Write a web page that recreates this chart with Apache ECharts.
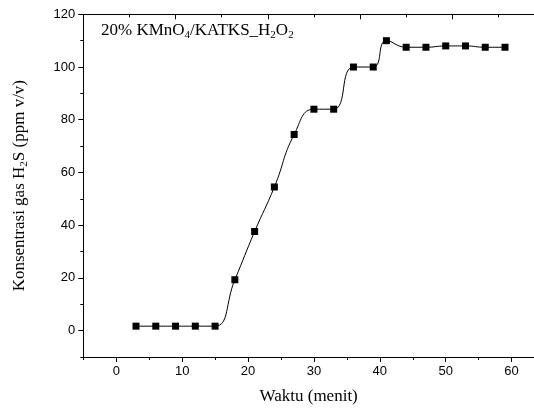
<!DOCTYPE html>
<html>
<head>
<meta charset="utf-8">
<script src="https://cdn.jsdelivr.net/npm/echarts@6/dist/echarts.min.js"></script>
<style>html,body{margin:0;padding:0;background:#fff}#c{width:534px;height:410px}</style>
</head>
<body>
<div id="c"></div>
<script>
// Data
const time = [3, 6, 9, 12, 15, 18, 21, 24, 27, 30, 33, 36, 39, 41, 44, 47, 50, 53, 56, 59];
const concentration = [1.7, 1.7, 1.7, 1.7, 1.7, 19.3, 37.6, 54.5, 74.4, 84, 84, 100, 100, 110, 107.5, 107.5, 108, 108, 107.5, 107.5];
const xTickLabels = [0, 10, 20, 30, 40, 50, 60];
const xMinorTicks = [-5, 5, 15, 25, 35, 45, 55];
const yTickLabels = [0, 20, 40, 60, 80, 100, 120];
const yMinorTicks = [-10, 10, 30, 50, 70, 90, 110];
const topMajorTicks = [-5, 9, 23, 37, 51];
const topMinorTicks = [2, 16, 30, 44, 58];

const X_MIN = -5, X_MAX = 63.4, Y_MIN = -10, Y_MAX = 120;
const lineC = '#000';
const serif = '"Liberation Serif", "Times New Roman", serif';
const sans = '"Liberation Sans", Arial, sans-serif';

function xAx(extra) {
  return Object.assign({
    type: 'value', min: X_MIN, max: X_MAX, interval: 1,
    splitLine: { show: false },
    axisLine: { show: true, onZero: false, lineStyle: { color: lineC, width: 1 } },
    axisLabel: { show: false },
  }, extra);
}
function yAx(extra) {
  return Object.assign({
    type: 'value', min: Y_MIN, max: Y_MAX, interval: 10,
    splitLine: { show: false },
    axisLine: { show: true, onZero: false, lineStyle: { color: lineC, width: 1 } },
    axisLabel: { show: false },
  }, extra);
}

const richSub = {
  a: { fontFamily: serif, fontSize: 17, fontWeight: 'normal', color: '#000', lineHeight: 20 },
  s: { fontFamily: serif, fontSize: 11, fontWeight: 'normal', color: '#000', lineHeight: 10, verticalAlign: 'bottom' }
};

const chart = echarts.init(document.getElementById('c'), null, { renderer: 'canvas' });
chart.setOption({
  animation: false,
  backgroundColor: '#fff',
  title: {
    text: '{a|20% KMnO}{s|4}{a|/KATKS_H}{s|2}{a|O}{s|2}',
    left: 101, top: 21, padding: 0,
    textStyle: { fontWeight: 'normal', rich: richSub }
  },
  grid: { left: 83.3, right: 0, top: 14.3, bottom: 51, containLabel: false },
  xAxis: [
    xAx({
      position: 'bottom',
      axisTick: { show: true, length: 5, customValues: xTickLabels, lineStyle: { color: lineC } },
      axisLabel: { show: true, customValues: xTickLabels, margin: 8, fontFamily: sans, fontSize: 13, color: '#000' },
      name: 'Waktu (menit)', nameLocation: 'middle', nameGap: 31,
      nameTextStyle: { fontFamily: serif, fontSize: 17, color: '#000' }
    }),
    xAx({
      position: 'bottom', axisLine: { show: false, onZero: false },
      axisTick: { show: true, length: 3, customValues: xMinorTicks, lineStyle: { color: lineC } }
    }),
    xAx({
      position: 'top',
      axisTick: { show: true, inside: true, length: 5, customValues: topMajorTicks, lineStyle: { color: lineC } }
    }),
    xAx({
      position: 'top', axisLine: { show: false, onZero: false },
      axisTick: { show: true, inside: true, length: 3, customValues: topMinorTicks, lineStyle: { color: lineC } }
    })
  ],
  yAxis: [
    yAx({
      position: 'left',
      axisTick: { show: true, length: 5, customValues: yTickLabels, lineStyle: { color: lineC } },
      axisLabel: { show: true, customValues: yTickLabels, margin: 8, fontFamily: sans, fontSize: 13, color: '#000' },
      name: '{a|Konsentrasi gas H}{s|2}{a|S (ppm v/v)}', nameLocation: 'middle', nameGap: 54,
      nameTextStyle: { rich: richSub }
    }),
    yAx({
      position: 'left', axisLine: { show: false, onZero: false },
      axisTick: { show: true, length: 3, customValues: yMinorTicks, lineStyle: { color: lineC } }
    })
  ],
  series: [{
    type: 'line',
    xAxisIndex: 0, yAxisIndex: 0,
    data: time.map((t, i) => [t, concentration[i]]),
    smooth: 0.5,
    symbol: 'rect', symbolSize: 7,
    itemStyle: { color: '#000' },
    lineStyle: { color: '#000', width: 1 },
    z: 5
  }]
});
</script>
</body>
</html>
